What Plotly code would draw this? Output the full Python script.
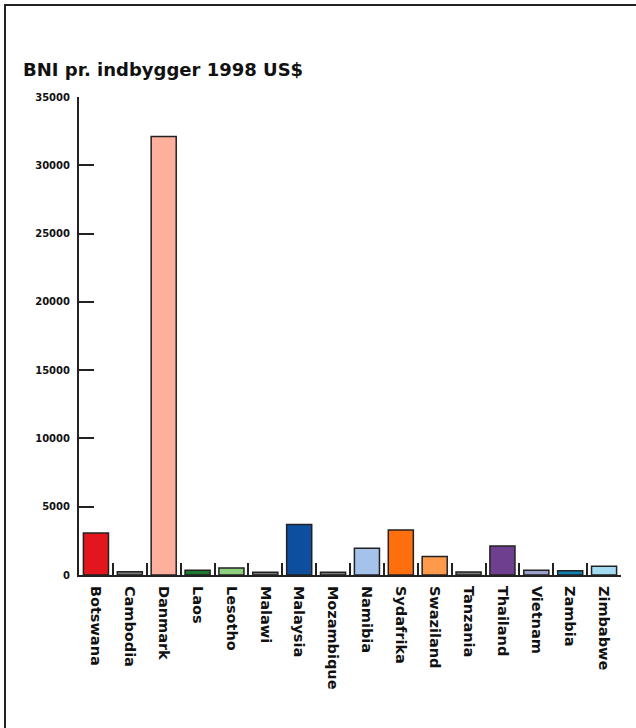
import plotly.graph_objects as go

W, H = 636, 728
ML, MR, MT, MB = 79, 15, 97, 153

categories = ["Botswana", "Cambodia", "Danmark", "Laos", "Lesotho", "Malawi",
              "Malaysia", "Mozambique", "Namibia", "Sydafrika", "Swaziland",
              "Tanzania", "Thailand", "Vietnam", "Zambia", "Zimbabwe"]
values = [3080, 240, 32100, 350, 520, 210, 3700, 210, 1950, 3290, 1360,
          220, 2120, 340, 320, 640]
colors = ["#e3161e", "#7a7a7a", "#ffb09c", "#1e7a30", "#8fcf80", "#7a7a7a",
          "#0d4f9e", "#7a7a7a", "#a4c2ea", "#ff6f0e", "#ff9a4c", "#7a7a7a",
          "#6e3f8e", "#9b9fcc", "#1280b2", "#a3dcf2"]
yticks = [0, 5000, 10000, 15000, 20000, 25000, 30000, 35000]

fig = go.Figure(go.Bar(
    x=categories, y=values,
    marker=dict(color=colors, line=dict(color="#222222", width=1.5)),
))

pw = W - ML - MR
ph = H - MT - MB

def px_to_paper_x(px):
    return (px - ML) / pw

def px_to_paper_y(py):
    return (H - MB - py) / ph

fig.update_layout(
    width=W, height=H,
    margin=dict(l=ML, r=MR, t=MT, b=MB),
    paper_bgcolor="white", plot_bgcolor="white",
    bargap=0.26,
    showlegend=False,
    font=dict(family="DejaVu Sans", color="#111111"),
    annotations=[dict(
        text="BNI pr. indbygger 1998 US$", xref="paper", yref="paper",
        x=px_to_paper_x(21), y=px_to_paper_y(70), xanchor="left", yanchor="middle",
        showarrow=False, font=dict(family="DejaVu Sans", size=18, weight="bold", color="#111111"),
    )],
)

fig.update_xaxes(
    type="category",
    showline=True, linecolor="#222222", linewidth=2,
    ticks="inside", tickson="boundaries", ticklen=12, tickwidth=1.5, tickcolor="#222222",
    tickangle=90, ticklabelstandoff=6,
    tickfont=dict(family="DejaVu Sans", size=14.5, weight="bold", color="#111111"),
    showgrid=False, zeroline=False,
)
fig.update_yaxes(
    range=[0, 35000],
    tickvals=yticks, ticktext=[str(v) for v in yticks],
    showline=True, linecolor="#222222", linewidth=2,
    ticks="inside", ticklen=15, tickwidth=1.5, tickcolor="#222222",
    ticklabelstandoff=5,
    tickfont=dict(family="DejaVu Sans", size=10, weight="bold", color="#111111"),
    showgrid=False, zeroline=False,
)

frame_js = (
    "document.body.style.margin='0';document.body.style.overflow='hidden';"
    "var f=document.createElement('div');"
    "f.style.cssText='position:absolute;left:4px;top:4px;width:700px;height:800px;"
    "border-top:2px solid #222;border-left:2px solid #222;pointer-events:none;';"
    "document.body.appendChild(f);"
)

fig.write_html("out.html", config={"displayModeBar": False}, post_script=frame_js)
